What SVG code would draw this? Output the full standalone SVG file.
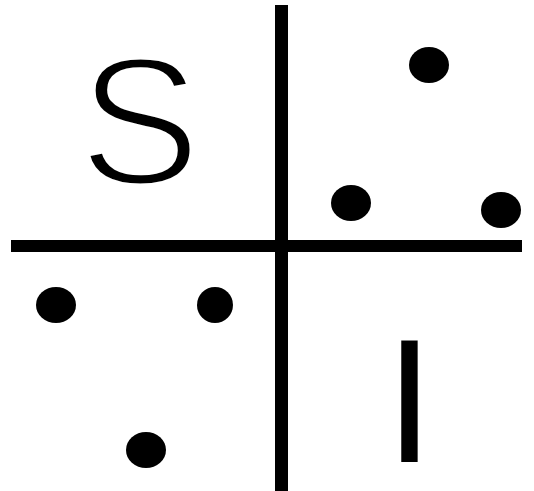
<svg xmlns="http://www.w3.org/2000/svg" width="534" height="491" viewBox="0 0 534 491">
  <style>
    .axis { fill: #000; }
    .dot { fill: #000; }
    .lbl { font-family: "Liberation Sans", Arial, sans-serif; fill: #000; }
  </style>
  <rect width="534" height="491" fill="#fff"/>
  <g id="axes">
    <rect class="axis" x="275" y="5" width="13" height="486"/>
    <rect class="axis" x="11" y="240" width="511" height="12"/>
  </g>
  <g id="label-S">
    <text class="lbl" x="79" y="184" font-size="182" stroke="#fff" stroke-width="5" paint-order="fill">S</text>
  </g>
  <g id="label-I">
    <text class="lbl" x="385" y="462" font-size="176">I</text>
  </g>
  <g id="dots-top-right">
    <ellipse class="dot" cx="429" cy="65" rx="20" ry="18"/>
    <ellipse class="dot" cx="351" cy="203" rx="20" ry="18"/>
    <ellipse class="dot" cx="501" cy="210" rx="20" ry="18"/>
  </g>
  <g id="dots-bottom-left">
    <ellipse class="dot" cx="56" cy="305" rx="20" ry="18"/>
    <ellipse class="dot" cx="215" cy="305" rx="18" ry="18"/>
    <ellipse class="dot" cx="146" cy="450" rx="20" ry="18"/>
  </g>
</svg>
